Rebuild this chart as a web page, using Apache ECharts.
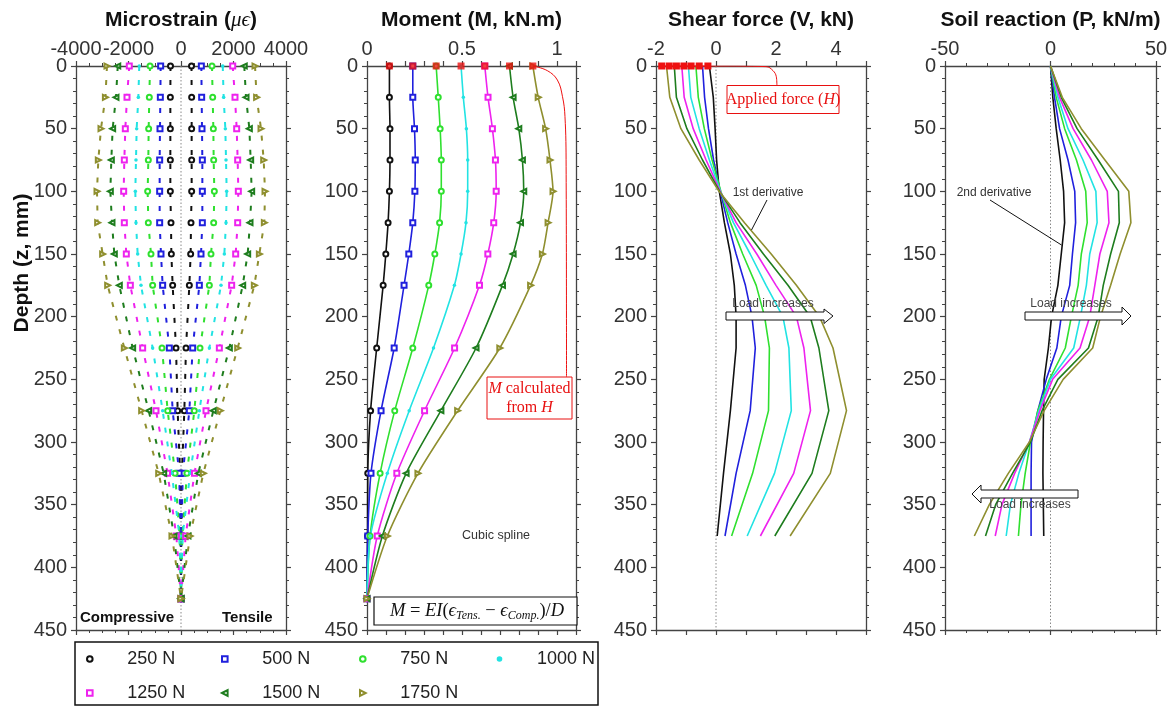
<!DOCTYPE html>
<html><head><meta charset="utf-8">
<script src="https://cdn.jsdelivr.net/npm/echarts@6.0.0/dist/echarts.min.js"></script>
<style>html,body{margin:0;padding:0;background:#fff}#c{width:1176px;height:708px}</style>
</head><body><div id="c"></div>
<script>
// ---------------- DATA ----------------
const loads = ['250 N','500 N','750 N','1000 N','1250 N','1500 N','1750 N'];

// Panel 1: microstrain (depth, mm)
const depthStrain = [0,25,50,75,100,125,150,175,225,275,325,375,425];
const strainT250  = [400,406,406,406,406,381,368,318,190,127,35,10,0];
const strainT500  = [775,787,800,813,813,813,762,699,445,318,70,15,0];
const strainT750  = [1180,1207,1232,1245,1270,1245,1143,1080,724,508,226,52,0];
const strainT1000 = [1590,1625,1689,1715,1740,1715,1651,1524,1080,699,350,60,0];
const strainT1250 = [1970,2057,2121,2159,2184,2159,2083,1930,1461,953,513,177,0];
const strainT1500 = [2410,2477,2604,2654,2692,2629,2540,2350,1842,1232,660,265,0];
const strainT1750 = [2820,2880,3048,3150,3200,3175,2985,2794,2159,1499,850,345,0];
const strainC250  = [-400,-406,-406,-406,-406,-381,-368,-318,-190,-127,-35,-10,0];
const strainC500  = [-775,-787,-800,-813,-813,-813,-762,-699,-445,-318,-70,-15,0];
const strainC750  = [-1180,-1207,-1232,-1245,-1270,-1245,-1143,-1080,-724,-508,-226,-52,0];
const strainC1000 = [-1590,-1625,-1689,-1715,-1740,-1715,-1651,-1524,-1080,-699,-350,-60,0];
const strainC1250 = [-1970,-2057,-2121,-2159,-2184,-2159,-2083,-1930,-1461,-953,-513,-177,0];
const strainC1500 = [-2410,-2477,-2604,-2654,-2692,-2629,-2540,-2350,-1842,-1232,-660,-265,0];
const strainC1750 = [-2820,-2880,-3048,-3150,-3200,-3175,-2985,-2794,-2159,-1499,-850,-345,0];

// Panel 2: moment (kN.m)
const depthMoment = [0,25,50,75,100,125,150,175,225,275,325,375,425];
const moment250  = [0.118,0.118,0.121,0.121,0.118,0.111,0.099,0.085,0.051,0.019,0.004,0.003,0];
const moment500  = [0.241,0.241,0.250,0.254,0.252,0.241,0.220,0.195,0.143,0.074,0.021,0.004,0];
const moment750  = [0.364,0.375,0.385,0.391,0.391,0.382,0.357,0.325,0.241,0.146,0.069,0.016,0];
const moment1000 = [0.495,0.507,0.523,0.530,0.530,0.521,0.495,0.460,0.350,0.222,0.107,0.018,0];
const moment1250 = [0.620,0.637,0.660,0.676,0.680,0.667,0.636,0.592,0.461,0.303,0.157,0.054,0];
const moment1500 = [0.750,0.769,0.799,0.818,0.825,0.808,0.769,0.713,0.574,0.389,0.206,0.081,0];
const moment1750 = [0.873,0.901,0.940,0.963,0.979,0.953,0.923,0.861,0.699,0.477,0.268,0.107,0];
const headMoment = [0.118,0.241,0.364,0.495,0.620,0.750,0.873];
const mFromHx = [0.873,0.949,1.002,1.029,1.042,1.048,1.050];
const mFromHy = [0,3.7,11.2,24.5,40.4,80,248];

// Panel 3: shear force (kN)
const depthShear = [0,25,50,75,100,125,150,175,200,225,275,325,375];
const shear250  = [-0.22,-0.09,-0.03,0.02,0.11,0.28,0.48,0.61,0.67,0.67,0.48,0.25,0.04];
const shear500  = [-0.45,-0.38,-0.25,-0.08,0.14,0.39,0.67,0.98,1.20,1.31,1.14,0.67,0.30];
const shear750  = [-0.67,-0.59,-0.39,-0.13,0.16,0.48,0.89,1.34,1.62,1.78,1.75,1.22,0.52];
const shear1000 = [-0.92,-0.84,-0.56,-0.22,0.15,0.58,1.14,1.67,2.23,2.43,2.51,1.95,1.04];
const shear1250 = [-1.14,-1.06,-0.76,-0.33,0.14,0.67,1.36,2.00,2.68,2.93,3.15,2.59,1.48];
const shear1500 = [-1.39,-1.32,-0.97,-0.45,0.12,0.80,1.58,2.40,3.14,3.43,3.76,3.20,1.96];
const shear1750 = [-1.65,-1.54,-1.17,-0.56,0.10,0.95,1.84,2.68,3.45,3.90,4.35,3.81,2.47];
const appliedH = [-1.81,-1.56,-1.32,-1.07,-0.83,-0.56,-0.27];
const hLinkX = [-0.27,0,1.67,1.90,2.01,2.03];
const hLinkY = [0,0,0.5,3.7,8.5,15.2];

// Panel 4: soil reaction (kN/m)
const depthSoil = [0,25,50,75,100,125,150,175,200,225,250,275,300,325,350,375];
const soil250  = [0,1.1,2.7,4.6,6.2,6.7,5.1,3.5,0.5,-1,-3,-3.3,-3.5,-3.6,-3.4,-3.2];
const soil500  = [0,1.9,4.3,8.3,11.5,11.9,10.4,9.1,5.1,3,-2,-6,-9,-9.2,-9.2,-9.2];
const soil750  = [0,2.7,6.7,12.3,16.7,17.4,14.6,13.1,9.9,7,-0.5,-6,-9.5,-12,-14,-15.2];
const soil1000 = [0,3.5,8.3,15.4,21.5,22.1,18.6,17.0,14.2,11,0,-5.5,-10,-15,-19,-21];
const soil1250 = [0,4.3,10.7,19.4,26.9,27.7,23.4,21.0,18.6,14,1,-5,-10,-17,-23,-26.2];
const soil1500 = [0,5.1,12.6,22.6,32.2,32.6,28.5,25.0,22.6,18,3.5,-4,-9.5,-18,-26,-30.8];
const soil1750 = [0,5.6,14.6,25.8,37.1,38.1,33.0,28.5,23.7,20,6,-3,-10,-20,-29,-36.1];

// ---------------- STYLE ----------------
const colors = ['#111111','#2020dd','#2fe02f','#22e3e3','#ee22ee','#1e7d1e','#8f8f2f'];
const syms = ['emptyCircle','emptyRect','emptyCircle','circle','emptyRect','emptyTriangle','emptyTriangle'];
const rots = [0,0,0,0,0,90,-90];
const FONT = '"Liberation Sans", Arial, sans-serif';
const SERIF = '"Liberation Serif", "DejaVu Serif", serif';

const strainT = [strainT250,strainT500,strainT750,strainT1000,strainT1250,strainT1500,strainT1750];
const strainC = [strainC250,strainC500,strainC750,strainC1000,strainC1250,strainC1500,strainC1750];
const moments = [moment250,moment500,moment750,moment1000,moment1250,moment1500,moment1750];
const shears = [shear250,shear500,shear750,shear1000,shear1250,shear1500,shear1750];
const soils = [soil250,soil500,soil750,soil1000,soil1250,soil1500,soil1750];

const pair = (xs, ys) => xs.map((x, i) => [x, ys[i]]);

const grids = [
  {left:76, top:66, width:210, height:564},
  {left:367, top:66, width:209, height:564},
  {left:656, top:66, width:210, height:564},
  {left:945, top:66, width:211, height:564}
].map(g => Object.assign({outerBoundsMode:'none', containLabel:false}, g));

const axisColor = '#444';
function xPair(gi, min, max, interval, minorSplit, formatter) {
  const base = {
    type:'value', gridIndex:gi, min, max, interval, splitLine:{show:false},
    axisLine:{show:true, onZero:false, lineStyle:{color:axisColor, width:1.3}},
    axisTick:{show:true, length:5, lineStyle:{color:axisColor, width:1.2}},
    minorTick:{show: !!minorSplit, splitNumber: minorSplit || 5, length:3, lineStyle:{color:axisColor, width:1}},
    minorSplitLine:{show:false}
  };
  return [
    Object.assign({}, base, {position:'top', axisLabel:{show:true, fontSize:20, color:'#333', fontFamily:FONT, margin:7, formatter, showMinLabel:true, showMaxLabel:true}}),
    Object.assign({}, base, {position:'bottom', axisLabel:{show:false}})
  ];
}
function yPair(gi) {
  const base = {
    type:'value', gridIndex:gi, min:0, max:450, interval:50, inverse:true, splitLine:{show:false},
    axisLine:{show:true, onZero:false, lineStyle:{color:axisColor, width:1.3}},
    axisTick:{show:true, length:5, lineStyle:{color:axisColor, width:1.2}},
    minorTick:{show:true, splitNumber:5, length:3, lineStyle:{color:axisColor, width:1}}
  };
  return [
    Object.assign({}, base, {position:'left', axisLabel:{show:true, fontSize:20, color:'#333', fontFamily:FONT, margin:9}}),
    Object.assign({}, base, {position:'right', axisLabel:{show:false}})
  ];
}

const xAxis = [].concat(
  xPair(0, -4000, 4000, 2000, 4, v => String(v)),
  xPair(1, 0, 1.1, 0.1, 0, v => { const r = Math.round(v * 10); return r % 5 === 0 ? String(r / 10) : ''; }),
  xPair(2, -2, 5, 1, 0, v => { const r = Math.round(v); return r % 2 === 0 ? String(r) : ''; }),
  xPair(3, -50, 50, 50, 5, v => String(v))
);
const yAxis = [].concat(yPair(0), yPair(1), yPair(2), yPair(3));

const series = [];
// zero reference lines
[[0,0],[4,4],[6,6]].forEach(([xi, yi]) => {
  series.push({type:'line', name:'zero', xAxisIndex:xi, yAxisIndex:yi, data:[[0,0],[0,450]], symbol:'none', silent:true, z:1,
    lineStyle:{color:'#888', width:1, type:[1.5,2]}});
});
// panel 1
for (let i = 0; i < 7; i++) {
  [strainT[i], strainC[i]].forEach(arr => {
    series.push({type:'line', name:loads[i], xAxisIndex:0, yAxisIndex:0, data:pair(arr, depthStrain),
      symbol:syms[i], symbolSize: i === 3 ? 3.5 : 5, symbolRotate:rots[i], z:3,
      lineStyle:{color:colors[i], width:2, type:[5,9]},
      itemStyle:{color:colors[i], borderWidth:1.2}});
  });
}
// panel 2
for (let i = 0; i < 7; i++) {
  series.push({type:'line', name:loads[i], xAxisIndex:2, yAxisIndex:2, data:pair(moments[i], depthMoment),
    symbol:syms[i], symbolSize: i === 3 ? 3.5 : 5, symbolRotate:rots[i], smooth:0.25, z:3,
    lineStyle:{color:colors[i], width:1.6}, itemStyle:{color:colors[i], borderWidth:1.3}});
}
series.push({type:'scatter', name:'M0', xAxisIndex:2, yAxisIndex:2, data:headMoment.map(m => [m, 0]),
  symbol:'rect', symbolSize:7, itemStyle:{color:'#ee1111'}, z:5});
series.push({type:'line', name:'Mlink', xAxisIndex:2, yAxisIndex:2, data:pair(mFromHx, mFromHy), symbol:'none', smooth:0.4, z:4,
  lineStyle:{color:'#ee1111', width:1}});
// panel 3
for (let i = 0; i < 7; i++) {
  series.push({type:'line', name:loads[i], xAxisIndex:4, yAxisIndex:4, data:pair(shears[i], depthShear),
    symbol:'none', z:3, lineStyle:{color:colors[i], width:1.6}});
}
series.push({type:'line', name:'H', xAxisIndex:4, yAxisIndex:4, data:appliedH.map(h => [h, 0]),
  symbol:'rect', symbolSize:7, z:5, lineStyle:{color:'#ee1111', width:1.5}, itemStyle:{color:'#ee1111'}});
series.push({type:'line', name:'Hlink', xAxisIndex:4, yAxisIndex:4, data:pair(hLinkX, hLinkY), symbol:'none', smooth:0.4, z:4,
  lineStyle:{color:'#ee1111', width:1}});
// panel 4
for (let i = 0; i < 7; i++) {
  series.push({type:'line', name:loads[i], xAxisIndex:6, yAxisIndex:6, data:pair(soils[i], depthSoil),
    symbol:'none', z:3, lineStyle:{color:colors[i], width:1.6}});
}

// legends
const legendPos = [[86,650],[221,650],[359,650],[496,650],[86,684],[221,684],[359,684]];
const legend = loads.map((n, i) => ({
  data:[n], left:legendPos[i][0], top:legendPos[i][1], padding:0, itemWidth:7, itemHeight:7,
  selectedMode:false, lineStyle:{width:0, opacity:0},
  textStyle:{fontSize:18, color:'#222', fontFamily:FONT, padding:[0,0,0,29]}
}));

function txt(x, y, text, font, fill, align) {
  return {type:'text', x, y, z:20, style:{text, font, fill: fill || '#111', align: align || 'center', verticalAlign:'middle',
    textAlign: align || 'center', textVerticalAlign:'middle'}};
}
function richTxt(x, y, text, rich, align) {
  return {type:'text', x, y, z:20, style:{text, rich, align: align || 'center', verticalAlign:'middle',
    textAlign: align || 'center', textVerticalAlign:'middle'}};
}
const titleRich = {
  b:{fontFamily:FONT, fontWeight:'bold', fontSize:21, fill:'#111'},
  m:{fontFamily:SERIF, fontStyle:'italic', fontSize:21, fill:'#111'}
};
const redRich = {
  n:{fontFamily:SERIF, fontSize:16, fill:'#e81010', lineHeight:19},
  i:{fontFamily:SERIF, fontStyle:'italic', fontSize:16, fill:'#e81010', lineHeight:19}
};
const fRich = {
  i:{fontFamily:SERIF, fontStyle:'italic', fontSize:18.5, fill:'#111'},
  n:{fontFamily:SERIF, fontSize:18.5, fill:'#111'},
  s:{fontFamily:SERIF, fontStyle:'italic', fontSize:12, fill:'#111', padding:[9,0,0,0]}
};

const graphic = [
  richTxt(181, 20, '{b|Microstrain (}{m|μϵ}{b|)}', titleRich),
  txt(471.5, 20, 'Moment (M, kN.m)', 'bold 21px ' + FONT),
  txt(761, 20, 'Shear force (V, kN)', 'bold 21px ' + FONT),
  txt(1050.5, 20, 'Soil reaction (P, kN/m)', 'bold 21px ' + FONT),
  {type:'text', x:22, y:263, rotation:Math.PI/2, z:20, style:{text:'Depth (z, mm)', font:'bold 21px ' + FONT, fill:'#111',
    align:'center', verticalAlign:'middle', textAlign:'center', textVerticalAlign:'middle'}},
  txt(80, 618, 'Compressive', 'bold 15px ' + FONT, '#111', 'left'),
  txt(222, 618, 'Tensile', 'bold 15px ' + FONT, '#111', 'left'),
  txt(496, 536, 'Cubic spline', '12.5px ' + FONT, '#333'),
  {type:'rect', z:19, shape:{x:374, y:597, width:203, height:28}, style:{fill:'#fff', stroke:'#111', lineWidth:1.2}},
  richTxt(477, 611, '{i|M}{n| = }{i|EI}{n|(}{i|ϵ}{s|Tens.}{n| − }{i|ϵ}{s|Comp.}{n|)/}{i|D}', fRich),
  {type:'rect', z:19, shape:{x:487, y:377, width:85, height:42}, style:{fill:'#fff', stroke:'#e81010', lineWidth:1}},
  richTxt(529.5, 398, '{i|M}{n| calculated}\n{n|from }{i|H}', redRich),
  {type:'rect', z:19, shape:{x:727, y:85.5, width:112, height:28}, style:{fill:'#fff', stroke:'#e81010', lineWidth:1}},
  richTxt(783, 99.5, '{n|Applied force (}{i|H}{n|)}', redRich),
  txt(768, 193, '1st derivative', '12px ' + FONT, '#333'),
  {type:'line', z:19, shape:{x1:767, y1:200, x2:751.5, y2:230}, style:{stroke:'#111', lineWidth:1}},
  txt(994, 193, '2nd derivative', '12px ' + FONT, '#333'),
  {type:'line', z:19, shape:{x1:990, y1:200, x2:1061.5, y2:245}, style:{stroke:'#111', lineWidth:1}},
  {type:'polygon', z:19, shape:{points:[[726,312],[824,312],[824,309],[833,316],[824,323.5],[824,320],[726,320]]}, style:{fill:'#fff', stroke:'#111', lineWidth:1}},
  txt(773, 304, 'Load increases', '12px ' + FONT, '#444'),
  {type:'polygon', z:19, shape:{points:[[1025,312],[1122,312],[1122,307],[1131,316],[1122,325],[1122,320],[1025,320]]}, style:{fill:'#fff', stroke:'#111', lineWidth:1}},
  txt(1071, 304, 'Load increases', '12px ' + FONT, '#444'),
  {type:'polygon', z:19, shape:{points:[[972,494],[981,485],[981,490],[1078,490],[1078,498],[981,498],[981,503]]}, style:{fill:'#fff', stroke:'#111', lineWidth:1}},
  txt(1030, 505, 'Load increases', '12px ' + FONT, '#444'),
  {type:'rect', z:0, shape:{x:75, y:642, width:523, height:63}, style:{fill:'none', stroke:'#111', lineWidth:1.5}}
];

const chart = echarts.init(document.getElementById('c'), null, {renderer:'canvas'});
chart.setOption({
  backgroundColor:'#fff',
  animation:false,
  grid:grids, xAxis, yAxis, series, legend, graphic
});
</script></body></html>
